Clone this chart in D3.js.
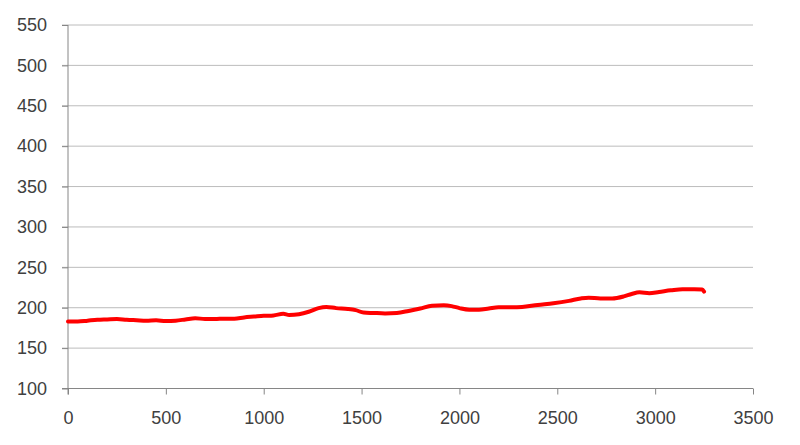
<!DOCTYPE html>
<html>
<head>
<meta charset="utf-8">
<script src="https://cdn.jsdelivr.net/npm/d3@7"></script>
<style>
  body { margin: 0; background: #fff; }
  svg text { font-family: "Liberation Sans", Arial, sans-serif; }
</style>
</head>
<body>
<div id="chart"></div>
<script>
// data
var xVals = [0, 50, 100, 150, 200, 250, 300, 350, 400, 450, 500, 550, 600, 650, 700, 750, 800, 850, 900, 950,
  1000, 1050, 1100, 1130, 1180, 1230, 1280, 1320, 1370, 1430, 1470, 1510, 1560, 1620, 1680, 1740, 1800, 1860,
  1920, 1960, 2000, 2050, 2100, 2150, 2200, 2270, 2320, 2400, 2480, 2560, 2620, 2660, 2720, 2780, 2840, 2880,
  2920, 2970, 3020, 3080, 3140, 3200, 3240, 3250]
var yVals = [183, 183, 184, 185, 185.5, 186, 185, 184.5, 184, 184.5, 183.5, 184, 185.5, 187, 186, 186, 186.5, 186.5, 188, 189,
  190, 190.5, 192.5, 191, 192, 195, 199.5, 201, 199.5, 198.5, 197, 194, 193.5, 193, 193.5, 196, 199, 202.5,
  203, 202, 199.5, 197.5, 197.5, 199, 200.5, 200.5, 201, 203.5, 205.5, 208.5, 211.5, 212.5, 211.5, 211.5, 214, 217,
  219, 218, 219.5, 221.5, 223, 223, 222.5, 220]
var xTicks = [0, 500, 1000, 1500, 2000, 2500, 3000, 3500]
var yTicks = [100, 150, 200, 250, 300, 350, 400, 450, 500, 550]

var width = 800
var height = 445
var margin = {top: 25, right: 47, bottom: 56.5, left: 68}

var svg = d3.select("#chart")
  .append("svg")
  .attr("width", width)
  .attr("height", height)

var xScale = d3.scaleLinear()
  .domain([0, 3500])
  .range([margin.left, width - margin.right])

var yScale = d3.scaleLinear()
  .domain([100, 550])
  .range([height - margin.bottom, margin.top])

// horizontal grid
svg.append("g")
  .attr("class", "grid")
  .selectAll("line")
  .data(yTicks.slice(1))
  .enter()
  .append("line")
  .attr("x1", margin.left - 6)
  .attr("x2", width - margin.right)
  .attr("y1", d => yScale(d))
  .attr("y2", d => yScale(d))
  .style("stroke", "#bcbcbc")
  .style("stroke-width", 1)

// Y axis
var yAxis = d3.axisLeft(yScale)
  .tickValues(yTicks)
  .tickSize(6)
  .tickPadding(15)
  .tickFormat(d3.format("d"))

var yG = svg.append("g")
  .attr("transform", `translate(${margin.left},0)`)
  .call(yAxis)
yG.select(".domain").remove()
yG.append("line")
  .attr("y1", margin.top)
  .attr("y2", height - margin.bottom + 6)
  .style("stroke", "#868686")
yG.selectAll(".tick line").style("stroke", "#868686")
yG.selectAll("text")
  .style("font-size", "18px")
  .style("fill", "#404040")

// X axis
var xAxis = d3.axisBottom(xScale)
  .tickValues(xTicks)
  .tickSize(6)
  .tickPadding(17)
  .tickFormat(d3.format("d"))

var xG = svg.append("g")
  .attr("transform", `translate(0,${height - margin.bottom})`)
  .call(xAxis)
xG.select(".domain").remove()
xG.append("line")
  .attr("x1", margin.left - 6)
  .attr("x2", width - margin.right)
  .style("stroke", "#868686")
xG.selectAll(".tick line").style("stroke", "#868686")
xG.selectAll("text")
  .style("font-size", "18px")
  .style("fill", "#404040")

// the series
var data = xVals.map((x, i) => ({x: x, y: yVals[i]}))

var line = d3.line()
  .x(d => xScale(d.x))
  .y(d => yScale(d.y))
  .curve(d3.curveMonotoneX)

svg.append("path")
  .datum(data)
  .attr("d", line)
  .style("fill", "none")
  .style("stroke", "#ff0000")
  .style("stroke-width", 4)
  .style("stroke-linecap", "round")
  .style("stroke-linejoin", "round")
</script>
</body>
</html>
